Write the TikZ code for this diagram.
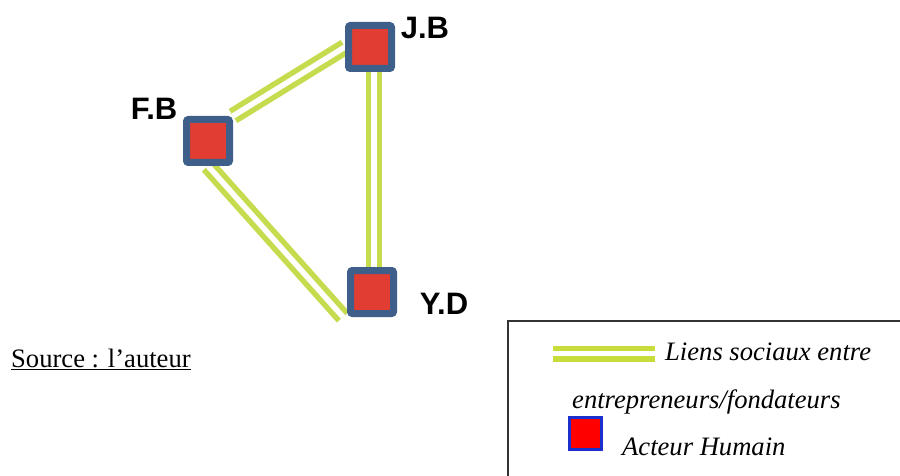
\documentclass[tikz,border=0pt]{standalone}
\usepackage{fontspec}
\setmainfont{Liberation Serif}
\setsansfont{Liberation Sans}
\usepackage{xcolor}
\usetikzlibrary{positioning,backgrounds}
\definecolor{Lien}{HTML}{C6DB4E}
\definecolor{LienLeg}{HTML}{C8DC3A}
\definecolor{Acteur}{HTML}{E23D33}
\definecolor{Bord}{HTML}{3E5F8A}
\definecolor{LegBord}{HTML}{1A2FCC}

\begin{document}
\begin{tikzpicture}[x=1pt,y=-1pt,
  acteur/.style={draw=Bord,line width=7pt,fill=Acteur,minimum size=43pt,inner sep=0pt,rounded corners=2pt},
  nom/.style={font=\sffamily\bfseries\fontsize{31}{34}\selectfont,inner sep=0pt},
  lien/.style={draw=Lien,double=white,line width=5.5pt,double distance=5.5pt},
  legtxt/.style={font=\itshape\fontsize{26.6}{30}\selectfont,anchor=base west,inner sep=0pt}]
  \useasboundingbox (0,0) rectangle (900,476);
  % acteurs
  \node[acteur] (fb) at (208,141) {};
  \node[acteur] (jb) at (370,47) {};
  \node[acteur] (yd) at (372,292) {};
  \node[nom] (nfb) at (154,109) {F.B};
  \node[nom] (njb) at (425,28) {J.B};
  \node[nom] (nyd) at (444,304) {Y.D};
  % liens sociaux
  \begin{scope}[on background layer]
    \draw[lien] (fb.north east) -- (jb.west);
    \draw[lien] (fb.south) -- ([xshift=-4pt]yd.south west);
    \draw[lien] ([xshift=4pt]jb.south) -- ([xshift=2pt]yd.north);
  \end{scope}
  \node[font=\fontsize{26.6}{30}\selectfont,anchor=base west,inner sep=0pt] (src) at (11,367) {\underline{Source : l’auteur}};
  % legende
  \draw[draw=black!80,line width=1.6pt] (508,321) rectangle (910,490);
  \coordinate (la) at (553,353.5);
  \coordinate (lb) at (655,353.5);
  \draw[draw=LienLeg,double=white,line width=5.5pt,double distance=5pt] (la) -- (lb);
  \node[legtxt] (l1) at (665,360) {Liens sociaux entre};
  \node[legtxt] (l2) at (572,408) {entrepreneurs/fondateurs};
  \node[draw=LegBord,line width=3pt,fill=red,minimum size=32pt,inner sep=0pt] (leg) at (585.5,433.5) {};
  \node[legtxt] (l3) at (622,455) {Acteur Humain};
\end{tikzpicture}
\end{document}
